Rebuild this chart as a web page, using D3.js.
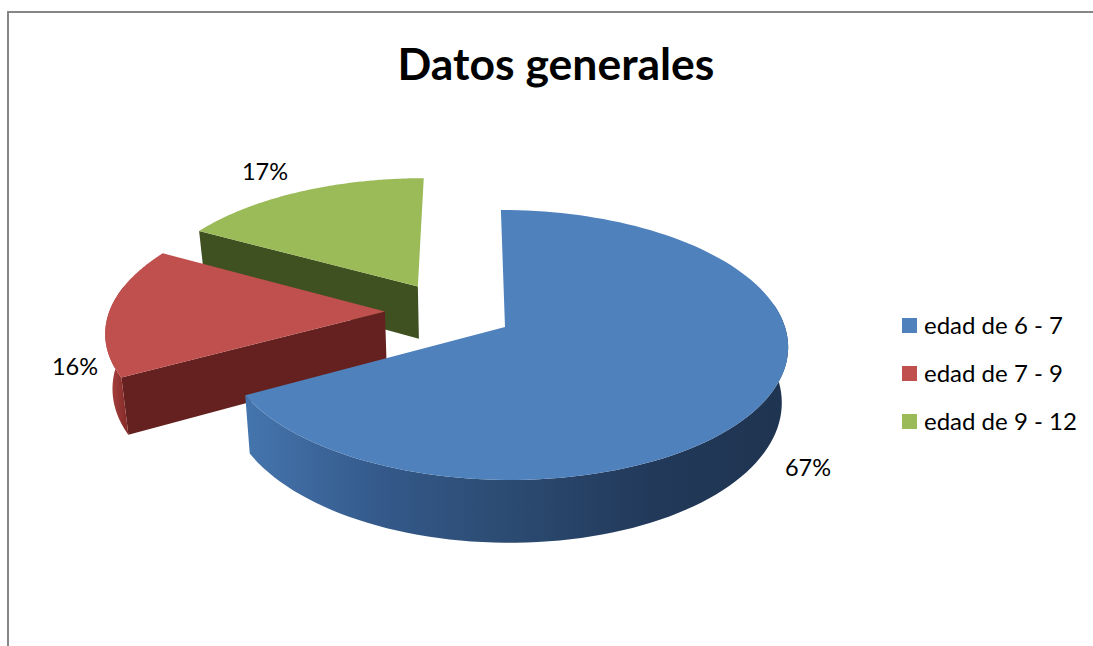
<!DOCTYPE html>
<html>
<head>
<meta charset="utf-8">
<script src="https://cdn.jsdelivr.net/npm/d3@7"></script>
<style>
  html, body { margin: 0; padding: 0; background: #fff; }
  svg { display: block; }
  text { font-family: Lato, Carlito, sans-serif; fill: #000; }
</style>
</head>
<body>
<svg id="chart" width="1093" height="646"></svg>
<script>
const title = "Datos generales";
const categories = ["edad de 6 - 7", "edad de 7 - 9", "edad de 9 - 12"];
const shares = [67, 16, 17];
const topColors = ["#4f81bd", "#c0504d", "#9bbb59"];
const cutColors = ["#2b4a70", "#64211f", "#3f5120"];
const wallStops = [
  ["#4575ae", "#34598a", "#2b4a70", "#22395a", "#1e3450"],
  ["#b04643", "#a53f3c", "#983836", "#8a2e2c"],
  ["#3f5120", "#3f5120"]
];

// Layout of the tilted disc: a point (u, v) on the unit disc, with v towards
// the viewer, is projected with a perspective divide. Depth is measured from
// the first slice's apex, width is scaled around a vanishing column just left of it.
const origin = { x: 505, y: 327 };
const radiusX = 280, radiusY = 132.6, perspective = 0.133;
const vanishingU = -0.125;
const thickness = 54.5, bottomShrink = 0.98;
const explode = 0.233;
const labelAnchors = [[808, 476], [75, 375], [265, 180]];

const svg = d3.select("#chart");

const slices = d3.pie().sort(null).value(d => d).startAngle(0).endAngle(2 * Math.PI)(shares);
const line = d3.line();
const closed = pts => line(pts) + "Z";

// The first slice sits with its apex on the origin, which fixes the pie's true centre.
const firstMid = (slices[0].startAngle + slices[0].endAngle) / 2;
const discCentre = { u: -explode * Math.sin(firstMid), v: explode * Math.cos(firstMid) };
const vanishingX = origin.x + radiusX * vanishingU;

function project(u, v) {
  const k = 1 / (1 - perspective * v);
  return [
    vanishingX + radiusX * (u - vanishingU) * k,
    origin.y + radiusY * v * k
  ];
}
function projectBottom(u, v) {
  const [x, y] = project(u, v);
  return [vanishingX + (x - vanishingX) * bottomShrink, y + thickness / (1 - perspective * v)];
}

// Arc samples of a slice, in disc coordinates, offset along the slice's mid angle.
function sliceGeometry(s) {
  const mid = (s.startAngle + s.endAngle) / 2;
  const cu = discCentre.u + explode * Math.sin(mid);
  const cv = discCentre.v - explode * Math.cos(mid);
  const angles = d3.range(0, 121).map(i => s.startAngle + (s.endAngle - s.startAngle) * i / 120);
  const rim = angles.map(a => ({ a, p: [cu + Math.sin(a), cv - Math.cos(a)] }));
  return { apex: [cu, cv], rim };
}

const defs = svg.append("defs");
const order = [2, 1, 0]; // painted from the back of the pie to the front

// Chart frame: only the top and left edges are visible
svg.append("path")
  .attr("d", line([[8, 646], [8, 12], [1093, 12]]))
  .attr("fill", "none").attr("stroke", "#868686").attr("stroke-width", 2);

order.forEach(i => {
  const s = slices[i];
  const g = sliceGeometry(s);
  const group = svg.append("g");
  const topRim = g.rim.map(r => project(...r.p));
  const botRim = g.rim.map(r => projectBottom(...r.p));
  const apexTop = project(...g.apex);
  const apexBot = projectBottom(...g.apex);
  const last = topRim.length - 1;

  // flat cut faces, only those turned towards the viewer
  if (-Math.sin(s.startAngle) > 1e-9) {
    group.append("path")
      .attr("d", closed([apexTop, topRim[0], botRim[0], apexBot]))
      .attr("fill", cutColors[i]);
  }
  if (Math.sin(s.endAngle) > 1e-9) {
    group.append("path")
      .attr("d", closed([apexTop, topRim[last], botRim[last], apexBot]))
      .attr("fill", cutColors[i]);
  }

  // curved outer wall, limited to the part of the rim that faces the viewer
  const facing = g.rim.filter(r => Math.cos(r.a) < 0.2);
  if (facing.length > 1) {
    const wallTop = facing.map(r => project(...r.p));
    const wallBot = facing.map(r => projectBottom(...r.p));
    const xs = d3.extent(wallTop, p => p[0]);
    const id = "wall" + i;
    const grad = defs.append("linearGradient").attr("id", id)
      .attr("gradientUnits", "userSpaceOnUse")
      .attr("x1", xs[0]).attr("x2", xs[1]).attr("y1", 0).attr("y2", 0);
    wallStops[i].forEach((c, k, arr) => {
      grad.append("stop").attr("offset", k / (arr.length - 1)).attr("stop-color", c);
    });
    group.append("path")
      .attr("d", closed(wallTop.concat(wallBot.slice().reverse())))
      .attr("fill", `url(#${id})`);
  }

  // top face
  group.append("path")
    .attr("d", closed([apexTop].concat(topRim)))
    .attr("fill", topColors[i]);
});

// Title
svg.append("text").text(title)
  .attr("x", 556).attr("y", 80)
  .attr("text-anchor", "middle")
  .attr("font-size", 44.5).attr("font-weight", 700);

// Percentage labels
svg.selectAll("text.pct").data(slices).join("text")
  .attr("class", "pct")
  .attr("x", (d, i) => labelAnchors[i][0])
  .attr("y", (d, i) => labelAnchors[i][1])
  .attr("text-anchor", "middle")
  .attr("font-size", 23.5)
  .text(d => d.value + "%");

// Legend
const legendY = d3.scalePoint().domain(categories).range([325.5, 421.5]);
const legend = svg.selectAll("g.legend").data(categories).join("g")
  .attr("class", "legend")
  .attr("transform", d => `translate(902,${legendY(d)})`);
legend.append("rect")
  .attr("x", 0).attr("y", -7.5).attr("width", 15).attr("height", 15)
  .attr("fill", (d, i) => topColors[i]);
legend.append("text")
  .attr("x", 22).attr("y", 8)
  .attr("font-size", 24)
  .text(d => d);
</script>
</body>
</html>
